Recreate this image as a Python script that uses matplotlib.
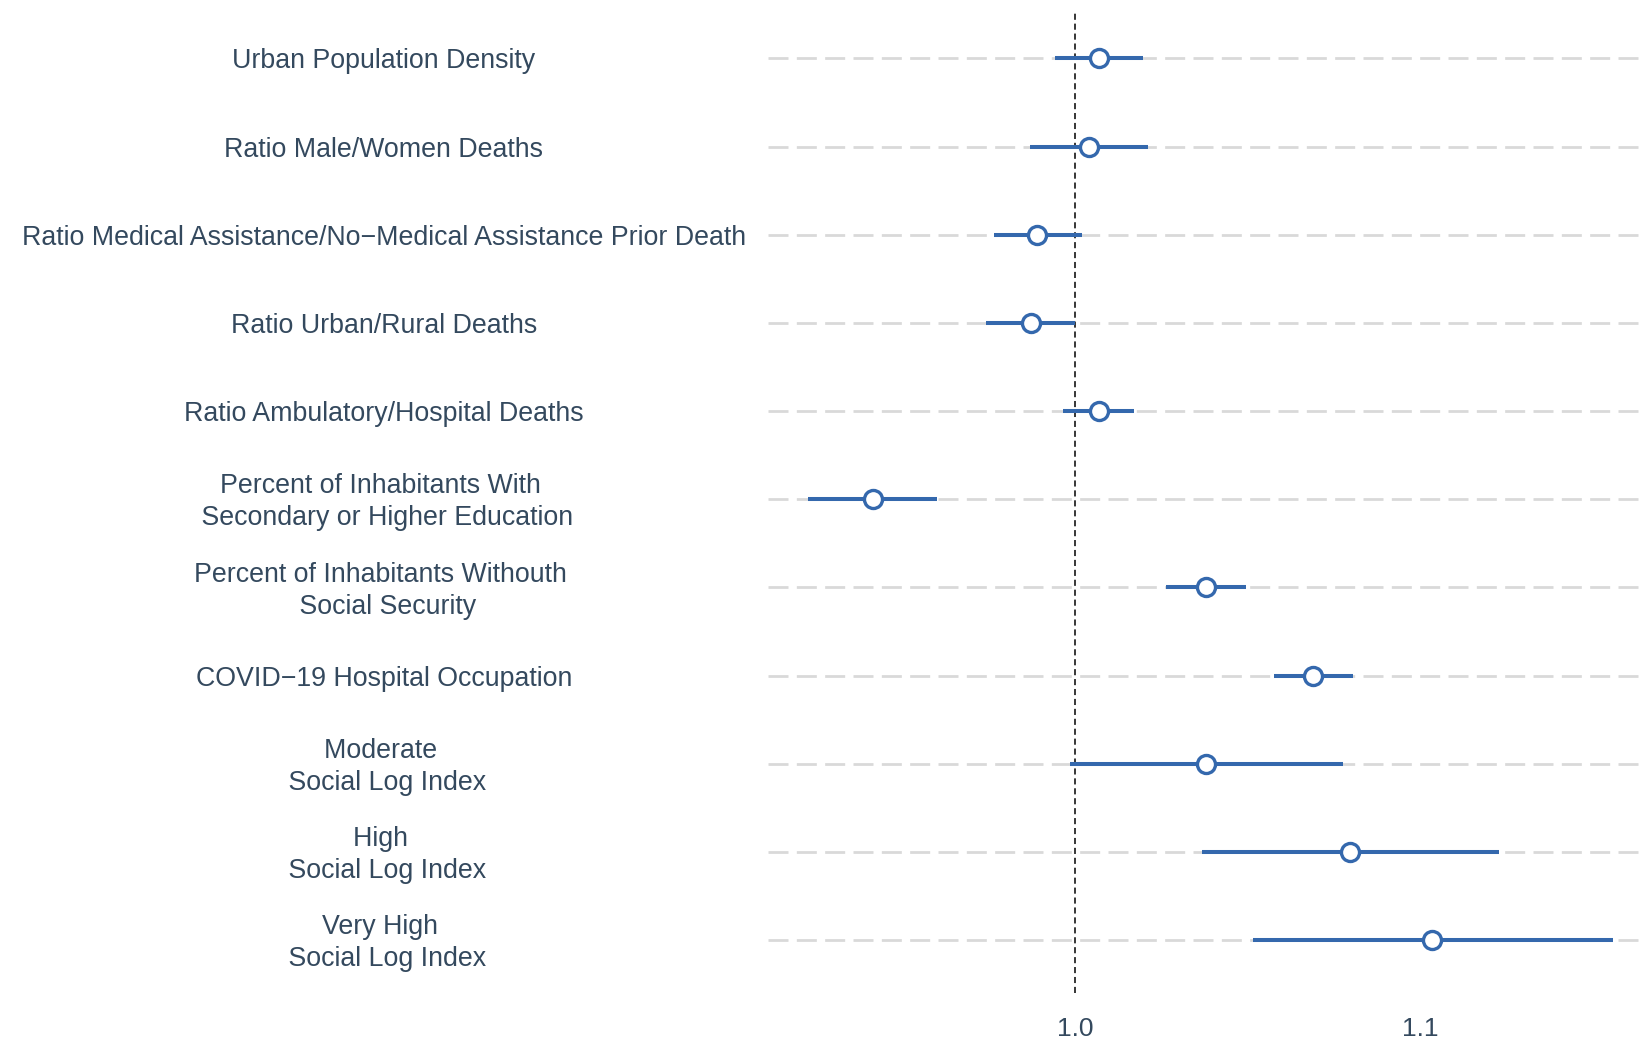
import matplotlib.pyplot as plt
import matplotlib.transforms as mtransforms

labels = [
    "Urban Population Density",
    "Ratio Male/Women Deaths",
    "Ratio Medical Assistance/No\u2212Medical Assistance Prior Death",
    "Ratio Urban/Rural Deaths",
    "Ratio Ambulatory/Hospital Deaths",
    "Percent of Inhabitants With \n Secondary or Higher Education",
    "Percent of Inhabitants Withouth \n Social Security",
    "COVID\u221219 Hospital Occupation",
    "Moderate \n Social Log Index",
    "High \n Social Log Index",
    "Very High \n Social Log Index",
]
estimate = [1.0070, 1.0039, 0.9891, 0.9873, 1.0068, 0.9414, 1.0380, 1.0691, 1.0379, 1.0798, 1.1036]
conf_low = [0.9942, 0.9868, 0.9766, 0.9742, 0.9965, 0.9227, 1.0264, 1.0578, 0.9986, 1.0368, 1.0517]
conf_high = [1.0198, 1.0211, 1.0019, 1.0001, 1.0172, 0.9600, 1.0496, 1.0807, 1.0777, 1.1230, 1.1559]

TEXT = "#34495E"
BLUE = "#3468AD"

plt.rcParams["font.family"] = ["Liberation Sans", "DejaVu Sans"]

fig = plt.figure(figsize=(16.5, 10.4), dpi=100)
ax = fig.add_axes([0.4655, 0.0452, 0.5295, 0.9452])

n = len(labels)
ypos = list(range(n, 0, -1))

for y in ypos:
    ax.axhline(y, color="#d9d9d9", lw=2, dashes=(7.2, 3), zorder=1)

ax.axvline(1.0, color="black", lw=1.1, dashes=(4, 2.5), zorder=2)

for y, lo, hi in zip(ypos, conf_low, conf_high):
    ax.plot([lo, hi], [y, y], color=BLUE, lw=2.9, solid_capstyle="butt", zorder=3)
ax.plot(estimate, ypos, linestyle="none", marker="o", ms=13, mfc="white",
        mec=BLUE, mew=2.4, zorder=4)

ax.set_xlim(0.911, 1.1643)
ax.set_ylim(0.4, n + 0.55)
ax.set_xticks([1.0, 1.1])
ax.set_xticklabels(["1.0", "1.1"])
ax.set_yticks([])
ax.tick_params(axis="x", length=0, pad=17, labelsize=19, labelcolor=TEXT)
for side in ax.spines.values():
    side.set_visible(False)

# category labels centred in the left margin
trans = mtransforms.blended_transform_factory(fig.transFigure, ax.transData)
nudge = trans + mtransforms.ScaledTranslation(0, -0.032, fig.dpi_scale_trans)
for y, text in zip(ypos, labels):
    if "\n" in text:
        ax.text(0.2327, y, text, transform=nudge, ha="center", va="center",
                fontsize=19.3, color=TEXT, linespacing=1.3, clip_on=False)
    else:
        ax.text(0.2327, y, text, transform=trans, ha="center", va="center_baseline",
                fontsize=19.3, color=TEXT, clip_on=False)

fig.savefig("out.png", dpi=100)
